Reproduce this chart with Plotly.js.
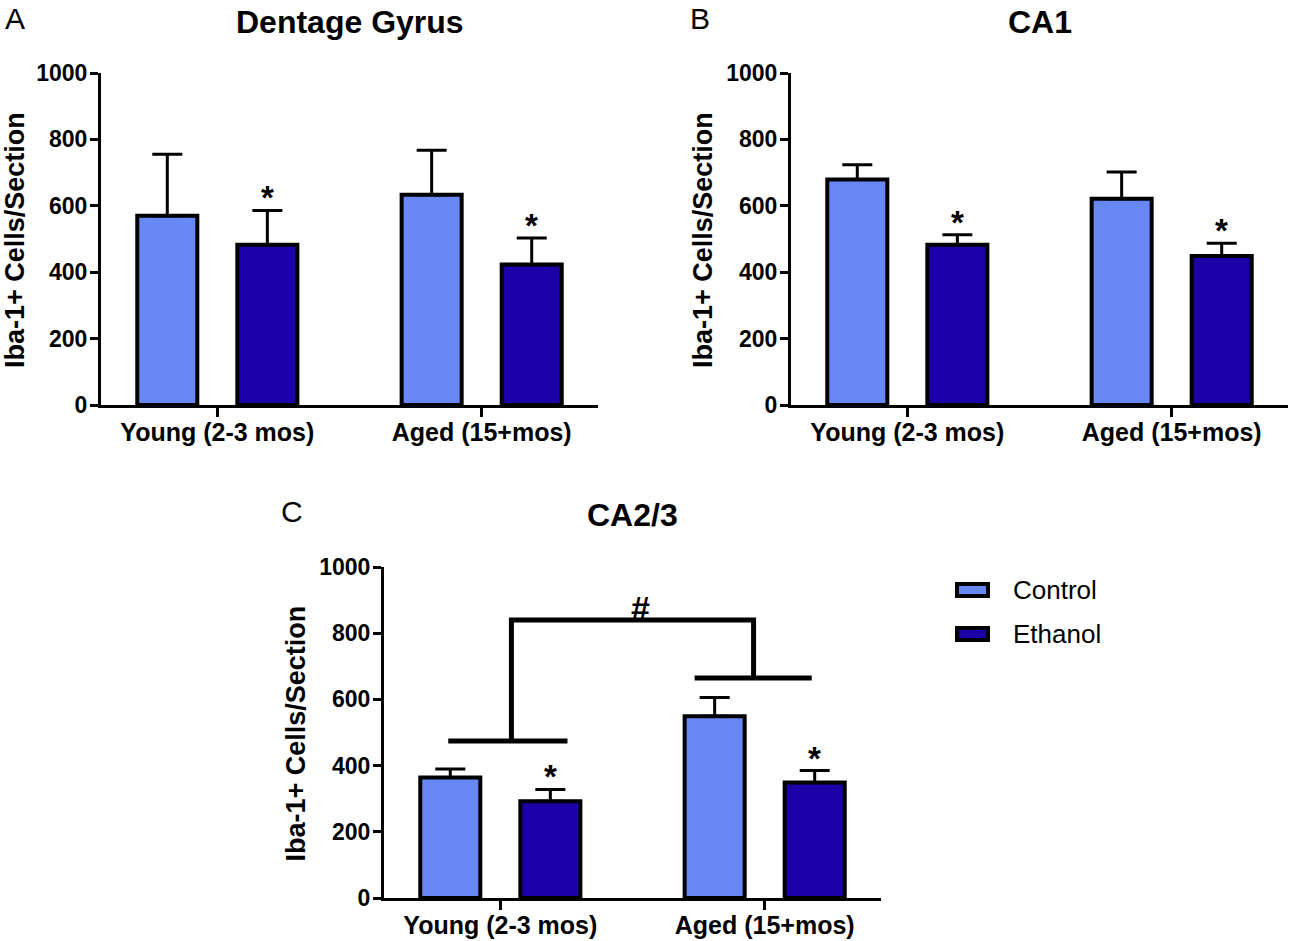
<!DOCTYPE html>
<html>
<head>
<meta charset="utf-8">
<script src="https://cdn.plot.ly/plotly-3.0.1.min.js"></script>
<style>html,body{margin:0;padding:0;background:#fff;}#chart{width:1290px;height:941px;}</style>
</head>
<body>
<div id="chart"></div>
<script>
// ---- data ----
const groups = ['Young (2-3 mos)', 'Aged (15+mos)'];
const seriesNames = ['Control', 'Ethanol'];
const panelTitles = ['Dentage Gyrus', 'CA1', 'CA2/3'];
const panelLetters = ['A', 'B', 'C'];
const yTitle = 'Iba-1+ Cells/Section';
const yTicks = [0, 200, 400, 600, 800, 1000];

const dgControl = [570, 633];
const dgControlErr = [185, 134];
const dgEthanol = [483, 423];
const dgEthanolErr = [103, 80];

const ca1Control = [679, 621];
const ca1ControlErr = [45, 81];
const ca1Ethanol = [483, 449];
const ca1EthanolErr = [30, 38];

const ca23Control = [364, 549];
const ca23ControlErr = [26, 57];
const ca23Ethanol = [292, 349];
const ca23EthanolErr = [36, 36];

// significance marks: '*' over ethanol bars in every panel
const starMark = '*';
// '#' bracket in CA2/3 (x in category units, y in data units)
const bracketYoungX = [-0.197, 0.254];
const bracketYoungY = 474;
const bracketAgedX = [0.735, 1.178];
const bracketAgedY = 665;
const bracketTopY = 840;
const bracketStemX = [0.042, 0.958];
const hashMark = '#';
const hashPos = [0.53, 876];

// ---- style ----
const colControl = '#6787F4';
const colEthanol = '#1B00A7';
const FONT = 'Liberation Sans, Arial, Helvetica, sans-serif';
const W = 1290, H = 941;
const bargap = 0.243, bargroupgap = 0.40;
const barOffset = (1 - bargap) / 4;

const px = v => v / W;
const py = v => (H - v) / H;

const panelDefs = [
  {ctrl: dgControl, ctrlErr: dgControlErr, eth: dgEthanol, ethErr: dgEthanolErr, xd: [101, 598], yd: [73, 405]},
  {ctrl: ca1Control, ctrlErr: ca1ControlErr, eth: ca1Ethanol, ethErr: ca1EthanolErr, xd: [791, 1288], yd: [73, 405]},
  {ctrl: ca23Control, ctrlErr: ca23ControlErr, eth: ca23Ethanol, ethErr: ca23EthanolErr, xd: [384, 881], yd: [567, 898]}
];

const traces = [];
const layout = {
  width: W, height: H,
  margin: {l: 0, r: 0, t: 0, b: 0},
  paper_bgcolor: '#fff', plot_bgcolor: 'rgba(0,0,0,0)',
  barmode: 'group', bargap: bargap, bargroupgap: bargroupgap,
  showlegend: false,
  font: {family: FONT, color: '#000'},
  annotations: [], shapes: []
};

panelDefs.forEach((p, i) => {
  const sfx = i === 0 ? '' : String(i + 1);
  const xa = 'x' + sfx, ya = 'y' + sfx;
  [[p.ctrl, p.ctrlErr, colControl, seriesNames[0]], [p.eth, p.ethErr, colEthanol, seriesNames[1]]].forEach(s => {
    traces.push({
      type: 'bar', x: groups, y: s[0], name: s[3], xaxis: xa, yaxis: ya,
      marker: {color: s[2], line: {color: '#000', width: 4}},
      error_y: {type: 'data', symmetric: false, array: s[1], arrayminus: s[1].map(() => 0),
        color: '#000', thickness: 3, width: 15},
      hoverinfo: 'skip'
    });
  });
  layout['xaxis' + sfx] = {
    domain: [px(p.xd[0]), px(p.xd[1])], anchor: ya, type: 'category',
    range: [-0.44, 1.44], showgrid: false, zeroline: false,
    showline: true, linewidth: 3, linecolor: '#000',
    ticks: 'outside', ticklen: 9, tickwidth: 3, tickcolor: '#000',
    ticklabelstandoff: -6,
    tickfont: {family: FONT, size: 25, weight: 'bold', color: '#000'},
    fixedrange: true
  };
  layout['yaxis' + sfx] = {
    domain: [py(p.yd[1]), py(p.yd[0])], anchor: xa,
    range: [0, 1000], tickvals: yTicks, showgrid: false, zeroline: false,
    showline: true, linewidth: 3, linecolor: '#000',
    ticks: 'outside', ticklen: 8, tickwidth: 3, tickcolor: '#000',
    ticklabelstandoff: -2,
    tickfont: {family: FONT, size: 23, weight: 'bold', color: '#000'},
    fixedrange: true
  };
  // stars over ethanol bars
  p.eth.forEach((v, k) => {
    layout.annotations.push({
      xref: xa, yref: ya, x: k + barOffset, y: v + p.ethErr[k], text: starMark,
      showarrow: false, yanchor: 'bottom', yshift: -8,
      font: {family: FONT, size: 33, weight: 'bold', color: '#000'}
    });
  });
  const cx = (p.xd[0] + p.xd[1]) / 2;
  const ty = i < 2 ? 22 : 515;
  // panel title
  layout.annotations.push({xref: 'paper', yref: 'paper', x: px(cx), y: py(ty), text: panelTitles[i],
    showarrow: false, xanchor: 'center', yanchor: 'middle',
    font: {family: FONT, size: 32, weight: 'bold', color: '#000'}});
  // panel letter
  const lx = [15, 700, 292][i];
  layout.annotations.push({xref: 'paper', yref: 'paper', x: px(lx), y: py(ty - 3), text: panelLetters[i],
    showarrow: false, xanchor: 'center', yanchor: 'middle',
    font: {family: FONT, size: 30, color: '#000'}});
  // y-axis title
  const ytx = [15, 703, 296][i];
  layout.annotations.push({xref: 'paper', yref: 'paper', x: px(ytx), y: py((p.yd[0] + p.yd[1]) / 2 + 1),
    text: yTitle, textangle: -90, showarrow: false, xanchor: 'center', yanchor: 'middle',
    font: {family: FONT, size: 27, weight: 'bold', color: '#000'}});
});

// '#' bracket in CA2/3
const bl = {color: '#000', width: 5};
layout.shapes.push(
  {type: 'line', xref: 'x3', yref: 'y3', x0: bracketYoungX[0], x1: bracketYoungX[1], y0: bracketYoungY, y1: bracketYoungY, line: bl},
  {type: 'line', xref: 'x3', yref: 'y3', x0: bracketAgedX[0], x1: bracketAgedX[1], y0: bracketAgedY, y1: bracketAgedY, line: bl},
  {type: 'path', xref: 'x3', yref: 'y3',
   path: `M${bracketStemX[0]},${bracketYoungY} L${bracketStemX[0]},${bracketTopY} L${bracketStemX[1]},${bracketTopY} L${bracketStemX[1]},${bracketAgedY}`,
   line: bl}
);
layout.annotations.push({xref: 'x3', yref: 'y3', x: hashPos[0], y: hashPos[1], text: hashMark,
  showarrow: false, xanchor: 'center', yanchor: 'middle',
  font: {family: FONT, size: 34, weight: 'bold', color: '#000'}});

// legend (drawn manually to match swatch shape)
const legendItems = [[seriesNames[0], colControl, 590], [seriesNames[1], colEthanol, 634]];
legendItems.forEach(it => {
  layout.shapes.push({type: 'rect', xref: 'paper', yref: 'paper',
    x0: px(957), x1: px(988), y0: py(it[2] + 6), y1: py(it[2] - 6),
    fillcolor: it[1], line: {color: '#000', width: 4}});
  layout.annotations.push({xref: 'paper', yref: 'paper', x: px(1011), y: py(it[2]), text: it[0],
    showarrow: false, xanchor: 'left', yanchor: 'middle',
    font: {family: FONT, size: 26, color: '#000'}});
});

Plotly.newPlot('chart', traces, layout, {staticPlot: true, displayModeBar: false});
</script>
</body>
</html>
